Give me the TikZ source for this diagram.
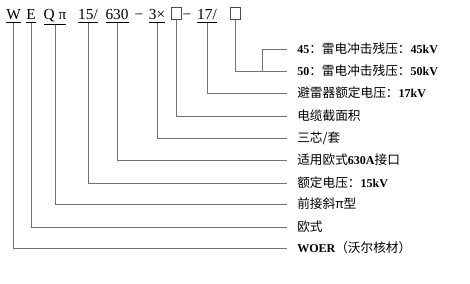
\documentclass[tikz,border=0pt]{standalone}
\usepackage{fontspec}
\setmainfont{Liberation Serif}
\newfontfamily\cjk{Noto Sans CJK SC}
\newfontfamily\latfont{Liberation Serif}
\newcommand\LB[1]{{\latfont\bfseries\fontsize{9}{10}\selectfont #1}}
\begin{document}
\begin{tikzpicture}[x=0.75pt,y=-0.75pt,
  hd/.style={inner sep=0pt, anchor=base, font=\fontsize{11.5}{12}\selectfont},
  bx/.style={draw=black!70, line width=0.5pt, minimum width=7.5pt, minimum height=9.5pt, inner sep=0pt, anchor=south},
  lb/.style={anchor=west, inner sep=0pt, font=\cjk\fontsize{9.5}{10}\selectfont},
  ln/.style={draw=black!55, line width=0.7pt, shorten >=7.5pt}]
\useasboundingbox (0,0) rectangle (470,284);
% header tokens
\node[hd] (W) at (13.5,20) {\underline{W}};
\node[hd] (E) at (31,20) {\underline{E}};
\node[hd] (Q) at (55,20) {\underline{Q\hspace{3pt}π}};
\node[hd] (t15) at (88,20) {\underline{15/}};
\node[hd] (t630) at (117,20) {\underline{630}};
\node[hd] (m1) at (139,20) {−};
\node[hd] (t3) at (157,20) {\underline{3×}};
\node[bx] (b1) at (176,20) {};
\node[hd] (m2) at (187,20) {−};
\node[hd] (t17) at (207,20) {\underline{17/}};
\node[bx] (b2) at (235,20) {};
% labels
\node[lb] (l45) at (297,49) {\LB{45}：雷电冲击残压：\LB{45kV}};
\node[lb] (l50) at (297,71) {\LB{50}：雷电冲击残压：\LB{50kV}};
\node[lb] (l17) at (297,93) {避雷器额定电压：\LB{17kV}};
\node[lb] (lsec) at (297,116) {电缆截面积};
\node[lb] (lcore) at (297,138) {三芯/套};
\node[lb] (l630) at (297,160) {适用欧式\LB{630A}接口};
\node[lb] (l15) at (297,183) {额定电压：\LB{15kV}};
\node[lb] (lpi) at (297,204) {前接斜π型};
\node[lb] (leu) at (297,227) {欧式};
\node[lb] (lw) at (297,248) {\LB{WOER}（沃尔核材）};
\coordinate (fork) at (262,71);
% connectors
\draw[ln] (W.south) |- (lw.west);
\draw[ln] (E.south) |- (leu.west);
\draw[ln] (Q.south) |- (lpi.west);
\draw[ln] (t15.south) |- (l15.west);
\draw[ln] (t630.south) |- (l630.west);
\draw[ln] (t3.south) |- (lcore.west);
\draw[ln] (b1.south) |- (lsec.west);
\draw[ln] (t17.south) |- (l17.west);
\draw[ln] (b2.south) |- (l50.west);
\draw[ln] (fork) |- (l45.west);
\end{tikzpicture}
\end{document}
